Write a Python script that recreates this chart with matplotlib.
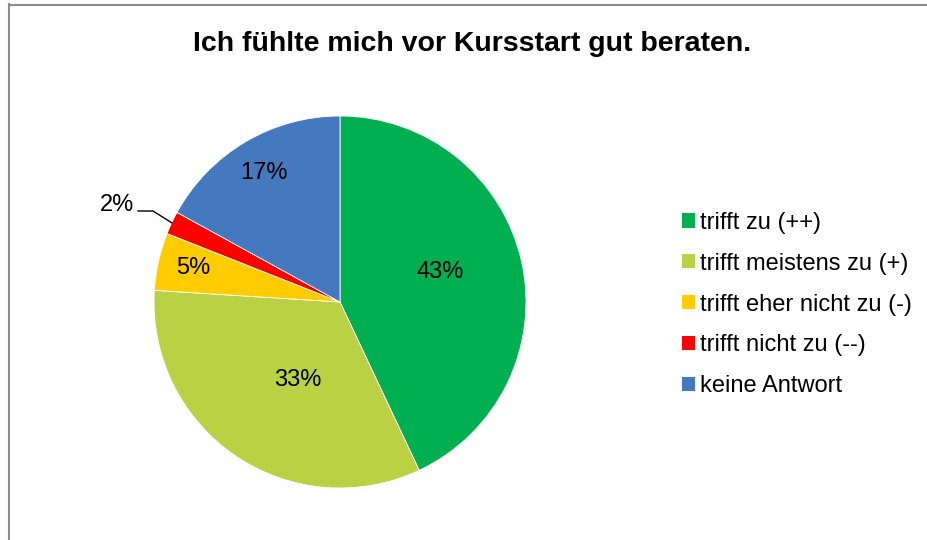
import matplotlib
matplotlib.use("Agg")
import matplotlib.pyplot as plt
from matplotlib.lines import Line2D
import numpy as np

plt.rcParams['font.family'] = ['Liberation Sans', 'DejaVu Sans']

title = "Ich fühlte mich vor Kursstart gut beraten."
categories = ["trifft zu (++)", "trifft meistens zu (+)", "trifft eher nicht zu (-)",
              "trifft nicht zu (--)", "keine Antwort"]
values = [43, 33, 5, 2, 17]
colors = ["#00B050", "#BBD144", "#FFCC00", "#FF0000", "#4479C0"]

# label placement (in pie-radius units, relative to centre); None -> outside with leader
label_xy = [(0.538, 0.161), (-0.226, -0.419), (-0.788, 0.183), None, (-0.409, 0.694)]

W, H = 928, 540
fig = plt.figure(figsize=(W / 100, H / 100), dpi=100)

# frame
fig.add_artist(Line2D([9.5 / W, 9.5 / W], [0, 1 - 4 / H], color="#8c8c8c", lw=1.5))
fig.add_artist(Line2D([9 / W, 1], [1 - 4.5 / H, 1 - 4.5 / H], color="#8c8c8c", lw=1.5))

cx, cy, r = 340, 302, 186
ax = fig.add_axes([(cx - r) / W, (H - cy - r) / H, 2 * r / W, 2 * r / H])
wedges, _ = ax.pie(values, colors=colors, startangle=90, counterclock=False,
                   wedgeprops=dict(linewidth=0.6, edgecolor="white"))
ax.set_xlim(-1, 1)
ax.set_ylim(-1, 1)
ax.set_aspect("equal")
ax.axis("off")

fs = 17
total = sum(values)
cum = 0
for v, pos in zip(values, label_xy):
    mid = np.deg2rad(90 - (cum + v / 2) / total * 360)
    cum += v
    txt = f"{v}%"
    if pos is not None:
        ax.text(pos[0], pos[1], txt, ha="center", va="center",
                fontsize=fs, color="#000000")
    else:
        ex, ey = np.cos(mid), np.sin(mid)
        # leader line
        ax.plot([ex * 1.0, (153 - cx) / r, (138 - cx) / r],
                [ey * 1.0, (cy - 211) / r, (cy - 211) / r],
                color="black", lw=1, clip_on=False)
        ax.text((134 - cx) / r, (cy - 205) / r, txt, ha="right", va="center",
                fontsize=fs, color="#000000")

fig.text(472 / W, 1 - 44 / H, title, ha="center", va="center",
         fontsize=20.5, fontweight="bold")

leg = fig.legend(wedges, categories, loc="upper left",
                 bbox_to_anchor=(670 / W, 1 - 200 / H), frameon=False,
                 fontsize=fs, handlelength=0.55, handleheight=0.55,
                 handletextpad=0.2, labelspacing=0.8, borderpad=0)
for h in leg.legend_handles:
    h.set_edgecolor("none")

fig.savefig("out.png", dpi=100)
